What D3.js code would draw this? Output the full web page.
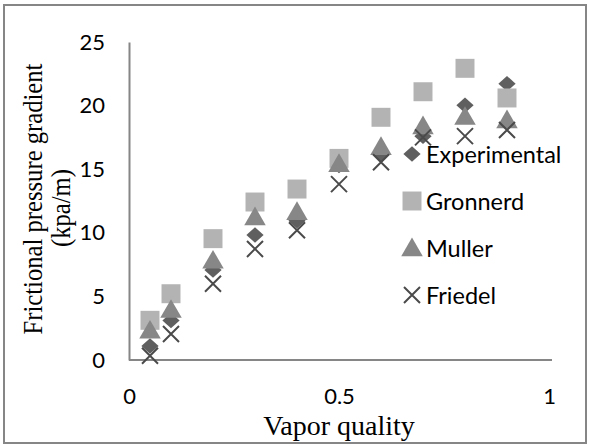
<!DOCTYPE html>
<html><head><meta charset="utf-8">
<script src="https://cdn.jsdelivr.net/npm/d3@7"></script>
<style>body{margin:0;background:#fff}svg{display:block}</style>
</head><body><svg id="c" width="589" height="446"></svg>
<script>
const quality = [0.05,0.1,0.2,0.3,0.4,0.5,0.6,0.7,0.8,0.9];
const experimental = [1.1,3.1,7.07,9.83,10.95,15.3,16.2,17.6,20.02,21.72];
const gronnerd = [3.12,5.21,9.54,12.42,13.44,15.85,19.08,21.09,22.93,20.6];
const muller = [2.33,3.96,7.83,11.24,11.66,15.43,16.77,18.4,19.13,18.87];
const friedel = [0.34,2.04,6.0,8.73,10.2,13.83,15.54,17.5,17.6,18.08];
const xTicks = [0,0.5,1];
const yTicks = [0,5,10,15,20,25];
const seriesNames = ["Experimental","Gronnerd","Muller","Friedel"];

const svg = d3.select("#c");
const tickFont = "Lato, 'Open Sans', sans-serif";
const serif = "'Liberation Serif', 'Times New Roman', serif";
svg.append("rect").attr("x",4).attr("y",5).attr("width",582).attr("height",438)
  .attr("fill","#fff").attr("stroke","#868686").attr("stroke-width",2);

const x = d3.scaleLinear().domain([0,1]).range([129,549]);
const y = d3.scaleLinear().domain([0,25]).range([360,42]);

// axes
const gx = svg.append("g").attr("transform","translate(0,360)")
  .call(d3.axisBottom(x).tickValues(xTicks).tickFormat(d3.format("")).tickSize(0).tickPadding(28));
gx.select(".domain").attr("stroke","#868686").attr("stroke-width",2).attr("d","M129,0H552");
gx.selectAll("text").attr("font-family",tickFont).attr("font-size",22).attr("fill","#000");

const gy = svg.append("g").attr("transform","translate(129,0)")
  .call(d3.axisLeft(y).tickValues(yTicks).tickSize(0).tickPadding(24));
gy.select(".domain").attr("stroke","#868686").attr("stroke-width",2);
gy.selectAll("text").attr("font-family",tickFont).attr("font-size",22).attr("fill","#000");

const data = [experimental,gronnerd,muller,friedel].map(v=>quality.map((q,i)=>({q,v:v[i]})));
const sym = {
  diamond: d3.symbol().type(d3.symbolDiamond2).size(190),
  square: d3.symbol().type(d3.symbolSquare).size(360),
  triangle: d3.symbol().type(d3.symbolTriangle).size(200)
};
function drawMarker(g, k){
  if(k===0) g.append("path").attr("d",sym.diamond()).attr("fill","#5f5f5f").attr("transform","scale(1,0.9)");
  else if(k===1) g.append("path").attr("d",sym.square()).attr("fill","#b3b3b3");
  else if(k===2) g.append("path").attr("d",sym.triangle()).attr("fill","#878787").attr("transform","translate(0,2)");
  else g.append("path").attr("d","M-8,-8L8,8M-8,8L8,-8").attr("stroke","#4a4a4a").attr("stroke-width",2).attr("fill","none");
}
data.forEach((arr,k)=>{
  svg.append("g").selectAll("g").data(arr).join("g")
    .attr("transform",d=>`translate(${x(d.q)},${y(d.v)})`)
    .each(function(){drawMarker(d3.select(this),k);});
});

// legend
const lg = svg.append("g");
seriesNames.forEach((n,i)=>{
  const cy = 154 + i*47;
  const m = lg.append("g").attr("transform",`translate(412,${cy})`);
  drawMarker(m,i);
  lg.append("text").attr("x",426).attr("y",cy+9).attr("font-family",tickFont)
    .attr("font-size",23.5).attr("fill","#000").text(n);
});

// axis titles
svg.append("text").attr("transform","translate(339,435)").attr("text-anchor","middle")
  .attr("font-family",serif).attr("font-size",28).text("Vapor quality");
svg.append("text").attr("transform","translate(42,199) rotate(-90) scale(0.88,1)").attr("text-anchor","middle")
  .attr("font-family",serif).attr("font-size",28).text("Frictional pressure gradient");
svg.append("text").attr("transform","translate(70,208) rotate(-90) scale(0.88,1)").attr("text-anchor","middle")
  .attr("font-family",serif).attr("font-size",28).text("(kpa/m)");
</script></body></html>
